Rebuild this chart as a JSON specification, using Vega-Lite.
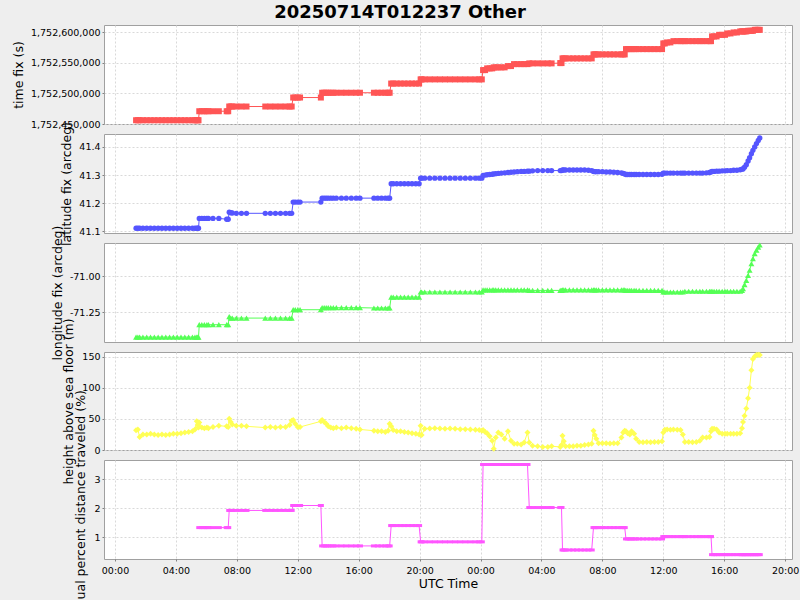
{
"$schema":"https://vega.github.io/schema/vega-lite/v6.json",
"background":"#eeeeee",
"padding":{"left":11,"top":3,"right":5,"bottom":5},
"title":{"text":"20250714T012237 Other","font":"DejaVu Sans","fontSize":18,"fontWeight":"bold","color":"#000000","anchor":"middle","frame":"group","dx":-48,"offset":3},
"data":{"values":[
{"t":"2025-07-14T01:23Z","tf":1752456157,"la":41.111,"lo":-71.424,"h":31.6},
{"t":"2025-07-14T01:30Z","tf":1752456157,"la":41.111,"lo":-71.424,"h":33},
{"t":"2025-07-14T01:37Z","tf":1752456157,"la":41.111,"lo":-71.424,"h":21},
{"t":"2025-07-14T01:50Z","tf":1752456157,"la":41.111,"lo":-71.424,"h":25},
{"t":"2025-07-14T02:05Z","tf":1752456157,"la":41.111,"lo":-71.424,"h":25},
{"t":"2025-07-14T02:20Z","tf":1752456157,"la":41.111,"lo":-71.424,"h":26},
{"t":"2025-07-14T02:35Z","tf":1752456157,"la":41.111,"lo":-71.424,"h":25},
{"t":"2025-07-14T02:50Z","tf":1752456157,"la":41.111,"lo":-71.424,"h":24},
{"t":"2025-07-14T03:05Z","tf":1752456157,"la":41.111,"lo":-71.424,"h":25},
{"t":"2025-07-14T03:20Z","tf":1752456157,"la":41.111,"lo":-71.424,"h":24},
{"t":"2025-07-14T03:35Z","tf":1752456157,"la":41.111,"lo":-71.424,"h":25},
{"t":"2025-07-14T03:50Z","tf":1752456157,"la":41.111,"lo":-71.424,"h":26},
{"t":"2025-07-14T04:05Z","tf":1752456157,"la":41.111,"lo":-71.424,"h":26},
{"t":"2025-07-14T04:20Z","tf":1752456157,"la":41.111,"lo":-71.424,"h":27},
{"t":"2025-07-14T04:35Z","tf":1752456157,"la":41.111,"lo":-71.424,"h":28},
{"t":"2025-07-14T04:50Z","tf":1752456157,"la":41.111,"lo":-71.424,"h":29},
{"t":"2025-07-14T05:05Z","tf":1752456157,"la":41.111,"lo":-71.424,"h":30},
{"t":"2025-07-14T05:15Z","tf":1752456157,"la":41.111,"lo":-71.424,"h":33},
{"t":"2025-07-14T05:22Z","tf":1752456157,"la":41.111,"lo":-71.424,"h":46},
{"t":"2025-07-14T05:26Z","tf":1752456157,"la":41.111,"lo":-71.424,"h":40},
{"t":"2025-07-14T05:29Z","tf":1752456157,"la":41.111,"lo":-71.424,"h":36},
{"t":"2025-07-14T05:32Z","tf":1752470900,"la":41.146,"lo":-71.338,"h":44,"r":1.33},
{"t":"2025-07-14T05:42Z","tf":1752470900,"la":41.146,"lo":-71.338,"h":36,"r":1.33},
{"t":"2025-07-14T05:52Z","tf":1752470900,"la":41.146,"lo":-71.338,"h":35,"r":1.33},
{"t":"2025-07-14T06:02Z","tf":1752470900,"la":41.146,"lo":-71.338,"h":36,"r":1.33},
{"t":"2025-07-14T06:08Z","tf":1752470900,"la":41.146,"lo":-71.338,"h":35,"r":1.33},
{"t":"2025-07-14T06:26Z","tf":1752470900,"la":41.146,"lo":-71.338,"h":37,"r":1.33},
{"t":"2025-07-14T06:49Z","tf":1752470900,"la":41.146,"lo":-71.338,"h":39,"r":1.33},
{"t":"2025-07-14T07:20Z","tf":1752470900,"la":41.143,"lo":-71.338,"h":38,"r":1.33},
{"t":"2025-07-14T07:26Z","tf":1752470900,"la":41.143,"lo":-71.338,"h":37,"r":1.33},
{"t":"2025-07-14T07:30Z","tf":1752478600,"la":41.168,"lo":-71.282,"h":50,"r":1.92},
{"t":"2025-07-14T07:36Z","tf":1752478600,"la":41.166,"lo":-71.292,"h":45,"r":1.92},
{"t":"2025-07-14T07:42Z","tf":1752478600,"la":41.165,"lo":-71.292,"h":41,"r":1.92},
{"t":"2025-07-14T07:58Z","tf":1752478600,"la":41.164,"lo":-71.292,"h":39,"r":1.92},
{"t":"2025-07-14T08:18Z","tf":1752478600,"la":41.164,"lo":-71.292,"h":39,"r":1.92},
{"t":"2025-07-14T08:38Z","tf":1752478600,"la":41.164,"lo":-71.292,"h":38,"r":1.92},
{"t":"2025-07-14T09:52Z","tf":1752478600,"la":41.164,"lo":-71.292,"h":36,"r":1.92},
{"t":"2025-07-14T10:12Z","tf":1752478600,"la":41.164,"lo":-71.292,"h":37,"r":1.92},
{"t":"2025-07-14T10:32Z","tf":1752478600,"la":41.164,"lo":-71.292,"h":36,"r":1.92},
{"t":"2025-07-14T10:52Z","tf":1752478600,"la":41.164,"lo":-71.292,"h":37,"r":1.92},
{"t":"2025-07-14T11:12Z","tf":1752478600,"la":41.164,"lo":-71.292,"h":37,"r":1.92},
{"t":"2025-07-14T11:28Z","tf":1752478600,"la":41.164,"lo":-71.292,"h":40,"r":1.92},
{"t":"2025-07-14T11:36Z","tf":1752478600,"la":41.164,"lo":-71.292,"h":47,"r":1.92},
{"t":"2025-07-14T11:42Z","tf":1752493300,"la":41.204,"lo":-71.234,"h":48,"r":2.09},
{"t":"2025-07-14T11:50Z","tf":1752493300,"la":41.204,"lo":-71.234,"h":42,"r":2.09},
{"t":"2025-07-14T12:00Z","tf":1752493300,"la":41.204,"lo":-71.234,"h":37,"r":2.09},
{"t":"2025-07-14T12:09Z","tf":1752493300,"la":41.204,"lo":-71.234,"h":37,"r":2.09},
{"t":"2025-07-14T13:31Z","tf":1752493300,"la":41.204,"lo":-71.234,"h":46,"r":2.09},
{"t":"2025-07-14T13:36Z","tf":1752501150,"la":41.218,"lo":-71.22,"h":48,"r":0.7},
{"t":"2025-07-14T13:44Z","tf":1752501150,"la":41.218,"lo":-71.22,"h":45,"r":0.7},
{"t":"2025-07-14T13:52Z","tf":1752501150,"la":41.218,"lo":-71.22,"h":42,"r":0.7},
{"t":"2025-07-14T14:00Z","tf":1752501150,"la":41.218,"lo":-71.22,"h":38,"r":0.7},
{"t":"2025-07-14T14:10Z","tf":1752501150,"la":41.218,"lo":-71.22,"h":36,"r":0.7},
{"t":"2025-07-14T14:20Z","tf":1752501150,"la":41.218,"lo":-71.22,"h":35,"r":0.7},
{"t":"2025-07-14T14:32Z","tf":1752501150,"la":41.218,"lo":-71.22,"h":36,"r":0.7},
{"t":"2025-07-14T14:52Z","tf":1752501150,"la":41.218,"lo":-71.22,"h":35,"r":0.7},
{"t":"2025-07-14T15:11Z","tf":1752501150,"la":41.218,"lo":-71.22,"h":36,"r":0.7},
{"t":"2025-07-14T15:31Z","tf":1752501150,"la":41.218,"lo":-71.22,"h":35,"r":0.7},
{"t":"2025-07-14T15:50Z","tf":1752501150,"la":41.218,"lo":-71.22,"h":34,"r":0.7},
{"t":"2025-07-14T16:05Z","tf":1752501150,"la":41.218,"lo":-71.22,"h":33,"r":0.7},
{"t":"2025-07-14T17:00Z","tf":1752501150,"la":41.218,"lo":-71.222,"h":31,"r":0.7},
{"t":"2025-07-14T17:15Z","tf":1752501150,"la":41.218,"lo":-71.222,"h":30,"r":0.7},
{"t":"2025-07-14T17:30Z","tf":1752501150,"la":41.218,"lo":-71.222,"h":30,"r":0.7},
{"t":"2025-07-14T17:45Z","tf":1752501150,"la":41.218,"lo":-71.222,"h":29,"r":0.7},
{"t":"2025-07-14T17:56Z","tf":1752501150,"la":41.218,"lo":-71.222,"h":31,"r":0.7},
{"t":"2025-07-14T18:02Z","tf":1752501150,"la":41.218,"lo":-71.222,"h":42,"r":0.7},
{"t":"2025-07-14T18:08Z","tf":1752516200,"la":41.269,"lo":-71.146,"h":38,"r":1.4},
{"t":"2025-07-14T18:16Z","tf":1752516200,"la":41.269,"lo":-71.146,"h":32,"r":1.4},
{"t":"2025-07-14T18:30Z","tf":1752516200,"la":41.269,"lo":-71.146,"h":30,"r":1.4},
{"t":"2025-07-14T18:45Z","tf":1752516200,"la":41.269,"lo":-71.146,"h":30,"r":1.4},
{"t":"2025-07-14T19:00Z","tf":1752516200,"la":41.269,"lo":-71.146,"h":29,"r":1.4},
{"t":"2025-07-14T19:15Z","tf":1752516200,"la":41.269,"lo":-71.146,"h":28,"r":1.4},
{"t":"2025-07-14T19:30Z","tf":1752516200,"la":41.269,"lo":-71.146,"h":27,"r":1.4},
{"t":"2025-07-14T19:45Z","tf":1752516200,"la":41.269,"lo":-71.146,"h":26,"r":1.4},
{"t":"2025-07-14T19:58Z","tf":1752516200,"la":41.269,"lo":-71.146,"h":25,"r":1.4},
{"t":"2025-07-14T20:04Z","tf":1752523000,"la":41.289,"lo":-71.111,"h":39,"r":0.84},
{"t":"2025-07-14T20:08Z","tf":1752523000,"la":41.289,"lo":-71.111,"h":24,"r":0.84},
{"t":"2025-07-14T20:20Z","tf":1752523000,"la":41.289,"lo":-71.111,"h":34,"r":0.84},
{"t":"2025-07-14T20:40Z","tf":1752523000,"la":41.289,"lo":-71.111,"h":34.5,"r":0.84},
{"t":"2025-07-14T21:00Z","tf":1752523000,"la":41.289,"lo":-71.111,"h":35,"r":0.84},
{"t":"2025-07-14T21:20Z","tf":1752523000,"la":41.289,"lo":-71.111,"h":34.5,"r":0.84},
{"t":"2025-07-14T21:40Z","tf":1752523000,"la":41.289,"lo":-71.111,"h":34,"r":0.84},
{"t":"2025-07-14T22:00Z","tf":1752523000,"la":41.289,"lo":-71.111,"h":34.5,"r":0.84},
{"t":"2025-07-14T22:20Z","tf":1752523000,"la":41.289,"lo":-71.111,"h":34,"r":0.84},
{"t":"2025-07-14T22:40Z","tf":1752523000,"la":41.289,"lo":-71.111,"h":33.5,"r":0.84},
{"t":"2025-07-14T23:00Z","tf":1752523000,"la":41.289,"lo":-71.111,"h":33.5,"r":0.84},
{"t":"2025-07-14T23:20Z","tf":1752523000,"la":41.289,"lo":-71.111,"h":33,"r":0.84},
{"t":"2025-07-14T23:40Z","tf":1752523000,"la":41.289,"lo":-71.111,"h":32.5,"r":0.84},
{"t":"2025-07-14T23:55Z","tf":1752523000,"la":41.289,"lo":-71.111,"h":32,"r":0.84},
{"t":"2025-07-15T00:05Z","tf":1752523000,"la":41.289,"lo":-71.111,"h":31,"r":0.84},
{"t":"2025-07-15T00:10Z","tf":1752538200,"la":41.299,"lo":-71.096,"h":32,"r":3.5},
{"t":"2025-07-15T00:18Z","tf":1752538200,"la":41.3,"lo":-71.096,"h":29,"r":3.5},
{"t":"2025-07-15T00:26Z","tf":1752541000,"la":41.301,"lo":-71.096,"h":27,"r":3.5},
{"t":"2025-07-15T00:36Z","tf":1752541000,"la":41.302,"lo":-71.096,"h":22,"r":3.5},
{"t":"2025-07-15T00:46Z","tf":1752541000,"la":41.303,"lo":-71.096,"h":15,"r":3.5},
{"t":"2025-07-15T00:52Z","tf":1752542650,"la":41.304,"lo":-71.096,"h":2,"r":3.5},
{"t":"2025-07-15T01:00Z","tf":1752542650,"la":41.305,"lo":-71.096,"h":20,"r":3.5},
{"t":"2025-07-15T01:10Z","tf":1752542650,"la":41.306,"lo":-71.096,"h":28,"r":3.5},
{"t":"2025-07-15T01:22Z","tf":1752542650,"la":41.307,"lo":-71.096,"h":25,"r":3.5},
{"t":"2025-07-15T01:35Z","tf":1752542650,"la":41.308,"lo":-71.096,"h":18,"r":3.5},
{"t":"2025-07-15T01:48Z","tf":1752544800,"la":41.309,"lo":-71.096,"h":30,"r":3.5},
{"t":"2025-07-15T02:00Z","tf":1752544800,"la":41.31,"lo":-71.096,"h":15,"r":3.5},
{"t":"2025-07-15T02:12Z","tf":1752548000,"la":41.311,"lo":-71.096,"h":10,"r":3.5},
{"t":"2025-07-15T02:25Z","tf":1752548000,"la":41.312,"lo":-71.096,"h":10,"r":3.5},
{"t":"2025-07-15T02:40Z","tf":1752548000,"la":41.313,"lo":-71.096,"h":9,"r":3.5},
{"t":"2025-07-15T02:52Z","tf":1752548000,"la":41.313,"lo":-71.096,"h":12,"r":3.5},
{"t":"2025-07-15T03:05Z","tf":1752548000,"la":41.314,"lo":-71.096,"h":28,"r":3.5},
{"t":"2025-07-15T03:12Z","tf":1752549200,"la":41.314,"lo":-71.1,"h":12,"r":2.02},
{"t":"2025-07-15T03:25Z","tf":1752549200,"la":41.315,"lo":-71.1,"h":7,"r":2.02},
{"t":"2025-07-15T03:45Z","tf":1752549200,"la":41.316,"lo":-71.1,"h":6,"r":2.02},
{"t":"2025-07-15T04:05Z","tf":1752549200,"la":41.316,"lo":-71.1,"h":5,"r":2.02},
{"t":"2025-07-15T04:25Z","tf":1752549200,"la":41.316,"lo":-71.1,"h":5,"r":2.02},
{"t":"2025-07-15T04:40Z","tf":1752549200,"la":41.316,"lo":-71.1,"h":6,"r":2.02},
{"t":"2025-07-15T05:14Z","tf":1752549700,"la":41.316,"lo":-71.1,"h":5,"r":2.02},
{"t":"2025-07-15T05:19Z","tf":1752549700,"la":41.316,"lo":-71.1,"h":8,"r":2.02},
{"t":"2025-07-15T05:23Z","tf":1752557350,"la":41.318,"lo":-71.096,"h":23,"r":0.56},
{"t":"2025-07-15T05:28Z","tf":1752557350,"la":41.318,"lo":-71.096,"h":14,"r":0.56},
{"t":"2025-07-15T05:35Z","tf":1752557350,"la":41.318,"lo":-71.096,"h":6,"r":0.56},
{"t":"2025-07-15T05:50Z","tf":1752557350,"la":41.318,"lo":-71.096,"h":6,"r":0.56},
{"t":"2025-07-15T06:05Z","tf":1752557350,"la":41.318,"lo":-71.096,"h":6,"r":0.56},
{"t":"2025-07-15T06:20Z","tf":1752557350,"la":41.318,"lo":-71.096,"h":7,"r":0.56},
{"t":"2025-07-15T06:35Z","tf":1752557350,"la":41.318,"lo":-71.096,"h":7,"r":0.56},
{"t":"2025-07-15T06:50Z","tf":1752557350,"la":41.318,"lo":-71.096,"h":8,"r":0.56},
{"t":"2025-07-15T07:05Z","tf":1752557350,"la":41.317,"lo":-71.096,"h":9,"r":0.56},
{"t":"2025-07-15T07:18Z","tf":1752557350,"la":41.316,"lo":-71.096,"h":10,"r":0.56},
{"t":"2025-07-15T07:25Z","tf":1752563900,"la":41.313,"lo":-71.096,"h":31,"r":1.33},
{"t":"2025-07-15T07:30Z","tf":1752563900,"la":41.312,"lo":-71.096,"h":24,"r":1.33},
{"t":"2025-07-15T07:36Z","tf":1752563900,"la":41.312,"lo":-71.096,"h":18,"r":1.33},
{"t":"2025-07-15T07:45Z","tf":1752563900,"la":41.312,"lo":-71.096,"h":11,"r":1.33},
{"t":"2025-07-15T08:00Z","tf":1752563900,"la":41.312,"lo":-71.096,"h":11,"r":1.33},
{"t":"2025-07-15T08:15Z","tf":1752563900,"la":41.311,"lo":-71.096,"h":11,"r":1.33},
{"t":"2025-07-15T08:30Z","tf":1752563900,"la":41.311,"lo":-71.096,"h":10.5,"r":1.33},
{"t":"2025-07-15T08:45Z","tf":1752563900,"la":41.31,"lo":-71.096,"h":11,"r":1.33},
{"t":"2025-07-15T09:00Z","tf":1752563900,"la":41.309,"lo":-71.096,"h":11,"r":1.33},
{"t":"2025-07-15T09:15Z","tf":1752563900,"la":41.308,"lo":-71.096,"h":20,"r":1.33},
{"t":"2025-07-15T09:22Z","tf":1752563900,"la":41.306,"lo":-71.096,"h":28,"r":1.33},
{"t":"2025-07-15T09:28Z","tf":1752563900,"la":41.304,"lo":-71.096,"h":31,"r":1.33},
{"t":"2025-07-15T09:33Z","tf":1752572550,"la":41.302,"lo":-71.1,"h":30,"r":0.94},
{"t":"2025-07-15T09:40Z","tf":1752572550,"la":41.302,"lo":-71.1,"h":27,"r":0.94},
{"t":"2025-07-15T09:48Z","tf":1752572550,"la":41.302,"lo":-71.1,"h":25,"r":0.94},
{"t":"2025-07-15T09:55Z","tf":1752572550,"la":41.302,"lo":-71.1,"h":30,"r":0.94},
{"t":"2025-07-15T10:05Z","tf":1752572550,"la":41.302,"lo":-71.1,"h":26,"r":0.94},
{"t":"2025-07-15T10:13Z","tf":1752572550,"la":41.302,"lo":-71.1,"h":18,"r":0.94},
{"t":"2025-07-15T10:25Z","tf":1752572550,"la":41.302,"lo":-71.1,"h":12.8,"r":0.94},
{"t":"2025-07-15T10:40Z","tf":1752572550,"la":41.302,"lo":-71.1,"h":12.5,"r":0.94},
{"t":"2025-07-15T10:55Z","tf":1752572550,"la":41.302,"lo":-71.1,"h":12.8,"r":0.94},
{"t":"2025-07-15T11:10Z","tf":1752572550,"la":41.302,"lo":-71.1,"h":12.5,"r":0.94},
{"t":"2025-07-15T11:25Z","tf":1752572550,"la":41.302,"lo":-71.1,"h":12.8,"r":0.94},
{"t":"2025-07-15T11:40Z","tf":1752572550,"la":41.302,"lo":-71.1,"h":13,"r":0.94},
{"t":"2025-07-15T11:55Z","tf":1752572550,"la":41.303,"lo":-71.1,"h":14,"r":0.94},
{"t":"2025-07-15T12:00Z","tf":1752581850,"la":41.307,"lo":-71.111,"h":28,"r":1.02},
{"t":"2025-07-15T12:06Z","tf":1752581850,"la":41.307,"lo":-71.111,"h":32.7,"r":1.02},
{"t":"2025-07-15T12:15Z","tf":1752583500,"la":41.307,"lo":-71.111,"h":33,"r":1.02},
{"t":"2025-07-15T12:28Z","tf":1752583500,"la":41.307,"lo":-71.111,"h":32.7,"r":1.02},
{"t":"2025-07-15T12:40Z","tf":1752585600,"la":41.307,"lo":-71.111,"h":33,"r":1.02},
{"t":"2025-07-15T12:55Z","tf":1752585600,"la":41.307,"lo":-71.111,"h":32.7,"r":1.02},
{"t":"2025-07-15T13:08Z","tf":1752585600,"la":41.307,"lo":-71.111,"h":32,"r":1.02},
{"t":"2025-07-15T13:17Z","tf":1752585600,"la":41.307,"lo":-71.111,"h":25,"r":1.02},
{"t":"2025-07-15T13:25Z","tf":1752585600,"la":41.307,"lo":-71.106,"h":13,"r":1.02},
{"t":"2025-07-15T13:40Z","tf":1752585600,"la":41.307,"lo":-71.106,"h":12.8,"r":1.02},
{"t":"2025-07-15T13:55Z","tf":1752585600,"la":41.307,"lo":-71.106,"h":12.5,"r":1.02},
{"t":"2025-07-15T14:10Z","tf":1752585600,"la":41.307,"lo":-71.106,"h":13,"r":1.02},
{"t":"2025-07-15T14:24Z","tf":1752585600,"la":41.307,"lo":-71.106,"h":15,"r":1.02},
{"t":"2025-07-15T14:35Z","tf":1752585600,"la":41.307,"lo":-71.106,"h":20,"r":1.02},
{"t":"2025-07-15T14:50Z","tf":1752585600,"la":41.308,"lo":-71.106,"h":20,"r":1.02},
{"t":"2025-07-15T15:02Z","tf":1752585600,"la":41.309,"lo":-71.106,"h":21,"r":1.02},
{"t":"2025-07-15T15:08Z","tf":1752585600,"la":41.311,"lo":-71.106,"h":30,"r":1.02},
{"t":"2025-07-15T15:12Z","tf":1752593300,"la":41.313,"lo":-71.106,"h":34,"r":0.4},
{"t":"2025-07-15T15:20Z","tf":1752593300,"la":41.313,"lo":-71.106,"h":34,"r":0.4},
{"t":"2025-07-15T15:30Z","tf":1752593300,"la":41.314,"lo":-71.106,"h":33,"r":0.4},
{"t":"2025-07-15T15:40Z","tf":1752595900,"la":41.314,"lo":-71.106,"h":28,"r":0.4},
{"t":"2025-07-15T15:52Z","tf":1752595900,"la":41.315,"lo":-71.106,"h":26,"r":0.4},
{"t":"2025-07-15T16:03Z","tf":1752595900,"la":41.315,"lo":-71.106,"h":26,"r":0.4},
{"t":"2025-07-15T16:12Z","tf":1752598200,"la":41.316,"lo":-71.106,"h":26,"r":0.4},
{"t":"2025-07-15T16:25Z","tf":1752598200,"la":41.316,"lo":-71.106,"h":26,"r":0.4},
{"t":"2025-07-15T16:37Z","tf":1752599800,"la":41.317,"lo":-71.106,"h":26,"r":0.4},
{"t":"2025-07-15T16:50Z","tf":1752599800,"la":41.317,"lo":-71.106,"h":26,"r":0.4},
{"t":"2025-07-15T17:03Z","tf":1752601500,"la":41.319,"lo":-71.106,"h":27,"r":0.4},
{"t":"2025-07-15T17:10Z","tf":1752601500,"la":41.321,"lo":-71.1,"h":35,"r":0.4},
{"t":"2025-07-15T17:14Z","tf":1752601500,"la":41.322,"lo":-71.088,"h":45,"r":0.4},
{"t":"2025-07-15T17:20Z","tf":1752601500,"la":41.328,"lo":-71.06,"h":55,"r":0.4},
{"t":"2025-07-15T17:27Z","tf":1752601500,"la":41.337,"lo":-71.03,"h":66.6,"r":0.4},
{"t":"2025-07-15T17:34Z","tf":1752602500,"la":41.35,"lo":-70.995,"h":83,"r":0.4},
{"t":"2025-07-15T17:40Z","tf":1752602500,"la":41.362,"lo":-70.96,"h":100,"r":0.4},
{"t":"2025-07-15T17:47Z","tf":1752602500,"la":41.376,"lo":-70.915,"h":128,"r":0.4},
{"t":"2025-07-15T17:53Z","tf":1752602500,"la":41.388,"lo":-70.88,"h":146,"r":0.4},
{"t":"2025-07-15T18:00Z","tf":1752604100,"la":41.4,"lo":-70.845,"h":150,"r":0.4},
{"t":"2025-07-15T18:07Z","tf":1752604100,"la":41.412,"lo":-70.82,"h":152.6,"r":0.4},
{"t":"2025-07-15T18:14Z","tf":1752604100,"la":41.423,"lo":-70.8,"h":153,"r":0.4},
{"t":"2025-07-15T18:20Z","tf":1752604100,"la":41.432,"lo":-70.785,"h":152.6,"r":0.4}
]},
"spacing":10,
"bounds":"flush",
"vconcat":[
{"width":688,"height":99,
 "encoding":{
  "x":{"field":"t","type":"temporal","scale":{"type":"utc","domain":[1752448600000,1752611220000],"nice":false},"axis":{"title":null,"labels":false,"ticks":false,"values":[1752451200000,1752465600000,1752480000000,1752494400000,1752508800000,1752523200000,1752537600000,1752552000000,1752566400000,1752580800000,1752595200000,1752609600000]}},
  "y":{"field":"tf","type":"quantitative","scale":{"domain":[1752450000,1752612000],"nice":false,"zero":false},"axis":{"title":"time fix (s)","values":[1752450000,1752500000,1752550000,1752600000],"format":",.0f","titleX":-85.6}}},
 "layer":[
  {"mark":{"type":"line","color":"#ff5555","strokeWidth":1}},
  {"mark":{"type":"point","filled":true,"opacity":1,"color":"#ff5555","shape":"square","size":36,"strokeWidth":0}}
 ]},
{"width":688,"height":99,
 "encoding":{
  "x":{"field":"t","type":"temporal","scale":{"type":"utc","domain":[1752448600000,1752611220000],"nice":false},"axis":{"title":null,"labels":false,"ticks":false,"values":[1752451200000,1752465600000,1752480000000,1752494400000,1752508800000,1752523200000,1752537600000,1752552000000,1752566400000,1752580800000,1752595200000,1752609600000]}},
  "y":{"field":"la","type":"quantitative","scale":{"domain":[41.094,41.446],"nice":false,"zero":false},"axis":{"title":"latitude fix (arcdeg)","values":[41.1,41.2,41.3,41.4],"format":".1f","titleX":-37.3}}},
 "layer":[
  {"mark":{"type":"line","color":"#5555ff","strokeWidth":1}},
  {"mark":{"type":"point","filled":true,"opacity":1,"color":"#5555ff","shape":"circle","size":28.3,"strokeWidth":0}}
 ]},
{"width":688,"height":99,
 "encoding":{
  "x":{"field":"t","type":"temporal","scale":{"type":"utc","domain":[1752448600000,1752611220000],"nice":false},"axis":{"title":null,"labels":false,"ticks":false,"values":[1752451200000,1752465600000,1752480000000,1752494400000,1752508800000,1752523200000,1752537600000,1752552000000,1752566400000,1752580800000,1752595200000,1752609600000]}},
  "y":{"field":"lo","type":"quantitative","scale":{"domain":[-71.458,-70.771],"nice":false,"zero":false},"axis":{"title":"longitude fix (arcdeg)","values":[-71.25,-71.0],"format":".2f","labelExpr":"replace(datum.label,'\u2212','-')","titleX":-46.3}}},
 "layer":[
  {"mark":{"type":"line","color":"#55ff55","strokeWidth":1}},
  {"mark":{"type":"point","filled":true,"opacity":1,"color":"#55ff55","shape":"triangle-up","size":36,"strokeWidth":0}}
 ]},
{"width":688,"height":98,
 "encoding":{
  "x":{"field":"t","type":"temporal","scale":{"type":"utc","domain":[1752448600000,1752611220000],"nice":false},"axis":{"title":null,"labels":false,"ticks":false,"values":[1752451200000,1752465600000,1752480000000,1752494400000,1752508800000,1752523200000,1752537600000,1752552000000,1752566400000,1752580800000,1752595200000,1752609600000]}},
  "y":{"field":"h","type":"quantitative","scale":{"domain":[0,157.4],"nice":false,"zero":false},"axis":{"title":"height above sea floor (m)","values":[0,50,100,150],"format":"d","titleX":-35.3}}},
 "layer":[
  {"mark":{"type":"line","color":"#ffff55","strokeWidth":1}},
  {"mark":{"type":"point","filled":true,"opacity":1,"color":"#ffff55","shape":"diamond","size":36,"strokeWidth":0}}
 ]},
{"width":688,"height":99,
 "encoding":{
  "x":{"field":"t","type":"temporal","scale":{"type":"utc","domain":[1752448600000,1752611220000],"nice":false},"axis":{"title":"UTC Time","format":"%H:%M","values":[1752451200000,1752465600000,1752480000000,1752494400000,1752508800000,1752523200000,1752537600000,1752552000000,1752566400000,1752580800000,1752595200000,1752609600000],"labelPadding":4,"titlePadding":3,"titleBaseline":"top","titleFontSize":12.5}},
  "y":{"field":"r","type":"quantitative","scale":{"domain":[0.25,3.655],"nice":false,"zero":false},"axis":{"title":"residual percent distance traveled (%)","values":[1,2,3],"format":"d","titleX":-23.3}}},
 "layer":[
  {"mark":{"type":"line","color":"#ff55ff","strokeWidth":1}},
  {"mark":{"type":"point","filled":true,"opacity":1,"color":"#ff55ff","shape":"stroke","size":36,"strokeWidth":3,"stroke":"#ff55ff"}}
 ]}
],
"config":{
 "view":{"stroke":"#a0a0a0","strokeWidth":1,"fill":"#ffffff"},
 "axis":{"labelFont":"DejaVu Sans","labelFontSize":9.5,"labelColor":"#000000","titleFont":"DejaVu Sans","titleFontSize":12.5,"titleFontWeight":"normal","titleColor":"#000000","gridColor":"#d9d9d9","gridDash":[2,2],"grid":true,"domain":false,"tickColor":"#808080","tickSize":2,"labelPadding":2,"titleBaseline":"middle"}
}
}
